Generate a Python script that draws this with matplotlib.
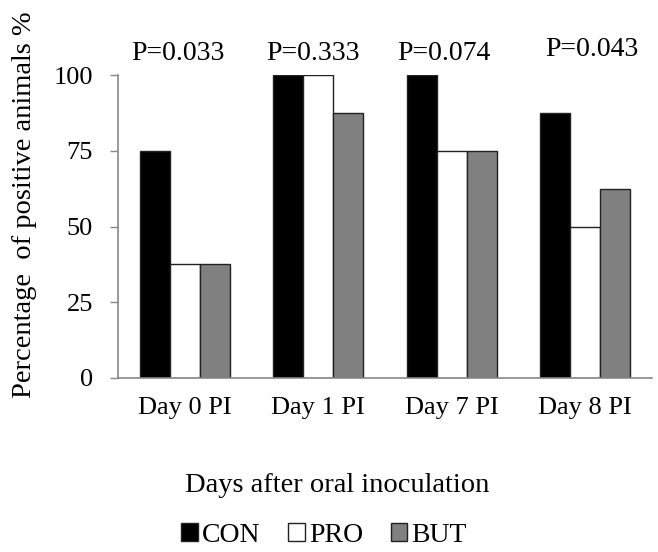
import matplotlib
matplotlib.use("Agg")
import matplotlib.pyplot as plt
import numpy as np

categories = ["Day 0 PI", "Day 1 PI", "Day 7 PI", "Day 8 PI"]
con = [75, 100, 100, 87.5]
pro = [37.5, 100, 75, 50]
but = [37.5, 87.5, 75, 62.5]
pvals = ["P=0.033", "P=0.333", "P=0.074", "P=0.043"]
yticks = [0, 25, 50, 75, 100]

plt.rcParams['font.family'] = ['Liberation Serif', 'DejaVu Serif']

fig = plt.figure(figsize=(6.58, 5.52), dpi=100)
ax = fig.add_axes([118/658, 1-378/552, (652-118)/658, (378-75)/552])

x = np.arange(len(categories))
w = 0.225
ec = '#222222'
ax.bar(x - w, con, w, color='black', edgecolor=ec, linewidth=1.0, label='CON')
ax.bar(x, pro, w, color='white', edgecolor=ec, linewidth=1.0, label='PRO')
ax.bar(x + w, but, w, color='#808080', edgecolor=ec, linewidth=1.0, label='BUT')

ax.set_xlim(-0.5, 3.5)
ax.set_ylim(0, 100)
ax.set_yticks(yticks)
ax.set_xticks(x)
ax.set_xticklabels(categories)
ax.tick_params(axis='y', labelsize=19, length=6, color='#888888', width=1, pad=12)
ax.tick_params(axis='x', labelsize=19, length=0, pad=14)
for s in ['top', 'right']:
    ax.spines[s].set_visible(False)
for s in ['left', 'bottom']:
    ax.spines[s].set_color('#888888')
    ax.spines[s].set_linewidth(1.2)

p_offsets = [-0.05, -0.04, -0.06, 0.05]
for i, p in enumerate(pvals):
    ax.text(x[i] + p_offsets[i], 107 + (1.5 if i == 3 else 0), p, ha='center', va='center',
            fontsize=20, clip_on=False)

fig.text(25/658, 1-205/552, "Percentage  of positive animals %", rotation=90,
         ha='center', va='center', fontsize=20.5)
fig.text(337/658, 1-485/552, "Days after oral inoculation", ha='center', va='center', fontsize=20.5)

leg = fig.legend(loc='center', bbox_to_anchor=(324/658, 1-535/552), ncol=3, frameon=False,
                 fontsize=20, handlelength=0.6, handleheight=0.6, handletextpad=0.15,
                 columnspacing=1.0, borderpad=0, borderaxespad=0)

fig.savefig("out.png", dpi=100)
